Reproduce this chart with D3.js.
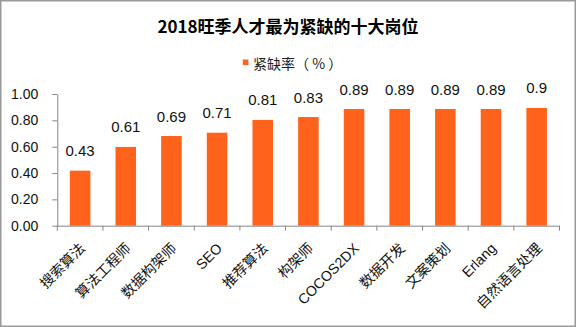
<!DOCTYPE html>
<html>
<head>
<meta charset="utf-8">
<script src="https://cdn.jsdelivr.net/npm/d3@7/dist/d3.min.js"></script>
<style>
  html, body { margin: 0; padding: 0; background: #fff; }
  svg { display: block; }
</style>
</head>
<body>
<svg id="chart" width="576" height="327"></svg>
<script>
const title = "2018旺季人才最为紧缺的十大岗位";
const seriesName = "紧缺率（ % ）";
const categories = ["搜索算法", "算法工程师", "数据构架师", "SEO", "推荐算法", "构架师", "COCOS2DX", "数据开发", "文案策划", "Erlang", "自然语言处理"];
const barValues = [0.418, 0.598, 0.681, 0.706, 0.803, 0.825, 0.886, 0.886, 0.886, 0.886, 0.894];
const valueLabels = ["0.43", "0.61", "0.69", "0.71", "0.81", "0.83", "0.89", "0.89", "0.89", "0.89", "0.9"];
const yTicks = [0, 0.2, 0.4, 0.6, 0.8, 1.0];

const W = 576, H = 327;
const latin = "'Liberation Sans', 'Noto Sans CJK SC', Arial, sans-serif";
const cjk = "'Noto Sans CJK SC', 'Liberation Sans', sans-serif";
const barColor = "#FE621B";
const axisColor = "#868686";

const svg = d3.select("#chart");

// frame
svg.append("rect").attr("x", 0.75).attr("y", 0.75).attr("width", W - 1.5).attr("height", H - 1.5)
  .attr("fill", "#fff").attr("stroke", "#9a9a9a").attr("stroke-width", 1.5);

const x = d3.scaleBand().domain(categories).range([57.3, 559.5]).paddingInner(0.55).paddingOuter(0.275);
const y = d3.scaleLinear().domain([0, 1]).range([225.7, 94]);

// title
svg.append("text").attr("x", W / 2).attr("y", 25).attr("text-anchor", "middle")
  .attr("dominant-baseline", "central")
  .attr("font-family", cjk).attr("font-weight", "bold").attr("font-size", 17).attr("fill", "#000")
  .text(title);

// legend
const lg = svg.append("g");
lg.append("rect").attr("x", 242.8).attr("y", 59.5).attr("width", 5.6).attr("height", 5.6).attr("fill", barColor);
lg.append("text").attr("x", 253).attr("y", 62.5).attr("dominant-baseline", "central")
  .attr("font-family", cjk).attr("font-size", 14).attr("fill", "#222").text(seriesName);

// y axis
const yAxis = d3.axisLeft(y).tickValues(yTicks).tickFormat(d3.format(".2f")).tickSizeInner(5).tickSizeOuter(0).tickPadding(14);
const yg = svg.append("g").attr("transform", `translate(${x.range()[0]},0)`).call(yAxis);
yg.select(".domain").attr("stroke", axisColor);
yg.selectAll(".tick line").attr("stroke", axisColor);
yg.selectAll(".tick text").attr("font-family", latin).attr("font-size", 14).attr("fill", "#111");

// bars
svg.append("g").selectAll("rect").data(categories).join("rect")
  .attr("x", d => x(d))
  .attr("y", (d, i) => y(barValues[i]))
  .attr("width", x.bandwidth())
  .attr("height", (d, i) => y(0) - y(barValues[i]))
  .attr("fill", barColor);

// value labels
svg.append("g").selectAll("text").data(categories).join("text")
  .attr("x", d => x(d) + x.bandwidth() / 2)
  .attr("y", (d, i) => y(barValues[i]) - 14.5)
  .attr("text-anchor", "middle")
  .attr("font-family", latin).attr("font-size", 15).attr("fill", "#111")
  .text((d, i) => valueLabels[i]);

// x axis
const xAxis = d3.axisBottom(x).tickSize(0).tickFormat("");
const xg = svg.append("g").attr("transform", `translate(0,${y(0)})`).call(xAxis);
xg.select(".domain").attr("stroke", axisColor);
const gap = (x.step() - x.bandwidth()) / 2;
const bounds = categories.map(d => x(d) - gap).concat([x(categories[categories.length - 1]) + x.bandwidth() + gap]);
xg.selectAll("line.bt").data(bounds).join("line").attr("class", "bt")
  .attr("x1", d => d).attr("x2", d => d).attr("y1", 0).attr("y2", 5)
  .attr("stroke", axisColor);

svg.append("g").selectAll("text").data(categories).join("text")
  .attr("transform", d => `translate(${x(d) + x.bandwidth() / 2 + 6},${y(0) + 23.5}) rotate(-45)`)
  .attr("text-anchor", "end")
  .attr("font-family", latin).attr("font-size", 14.2).attr("fill", "#111")
  .text(d => d);
</script>
</body>
</html>
